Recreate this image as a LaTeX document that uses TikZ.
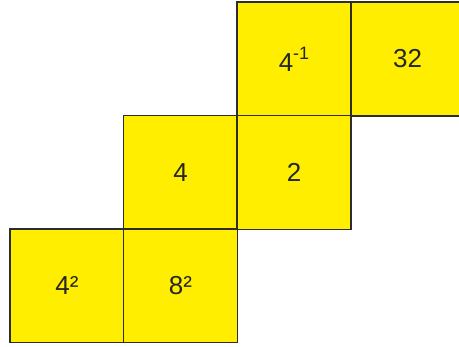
\documentclass[tikz,border=0pt]{standalone}
\usepackage{fontspec}
\setmainfont{Liberation Sans}
\definecolor{cellyellow}{RGB}{255,238,0}
\definecolor{celledge}{RGB}{45,45,45}
\begin{document}
\begin{tikzpicture}[x=1pt,y=-1pt,
  cell/.style={draw=celledge,fill=cellyellow,line width=1.4pt,minimum size=113.7pt,inner sep=0pt,outer sep=0pt,
    font=\fontsize{26}{30}\selectfont,text=black!85}]
\useasboundingbox (0,0) rectangle (459,347);
\begin{scope}
\clip (0,0) rectangle (459,347);
\node[cell] (a) at (294.0,59.0) {4\raisebox{0.45em}{\fontsize{18}{18}\selectfont -1}};
\node[cell] (b) at (407.7,59.0) {32};
\node[cell] (c) at (180.5,172.5) {4};
\node[cell] (d) at (294.0,172.5) {2};
\node[cell] (e) at (66.9,285.8) {4²};
\node[cell] (f) at (180.5,285.8) {8²};
\end{scope}
\end{tikzpicture}
\end{document}
